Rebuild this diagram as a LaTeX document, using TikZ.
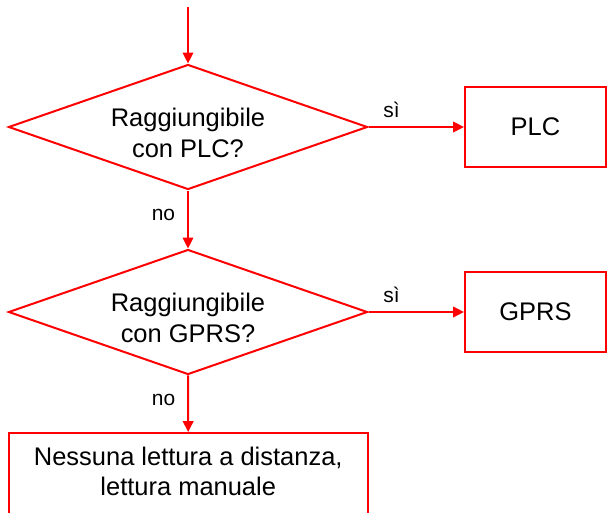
\documentclass[tikz,border=0pt]{standalone}
\usepackage{fontspec}
\setmainfont{Liberation Sans}
\usetikzlibrary{arrows.meta,shapes.geometric}
\newcommand{\strutup}{\rule{0pt}{22.85pt}}
\newcommand{\strutdown}{\rule[-3.9pt]{0pt}{0pt}}

\begin{document}
\begin{tikzpicture}[->,>={Triangle[length=8.25pt,width=8pt]},x=0.75pt,y=-0.75pt,red,line width=1.5pt]
  \tikzstyle{test}=[diamond,draw=red,text=black,aspect=2.87,inner sep=0pt,minimum width=269.25pt,minimum height=93.75pt,align=center,font=\fontsize{19.1}{23.25}\selectfont]
  \tikzstyle{block}=[rectangle,draw=red,text=black,minimum width=105.75pt,minimum height=60pt,align=center,font=\fontsize{19.1}{22.7}\selectfont]
  \tikzstyle{lbl}=[text=black,font=\fontsize{15.7}{18}\selectfont]

  \useasboundingbox (0,0) rectangle (607,512);
  \clip (0,0) rectangle (607,512);

  \coordinate (in) at (188,7);
  \node[test]  (d1)   at (188,127)   {\strutup Raggiungibile\\con PLC?};
  \node[block] (plc)  at (535.5,127) {PLC};
  \node[test]  (d2)   at (188,312)   {\strutup Raggiungibile\\con GPRS?};
  \node[block] (gprs) at (535.5,312) {GPRS};
  \node[block,minimum width=269.6pt,minimum height=61.5pt] (man) at (188.25,474) {Nessuna lettura a distanza,\\lettura manuale\strutdown};

  \path
  (in) edge (d1)
  (d1) edge node[lbl,pos=0.24,yshift=13pt] {sì} (plc)
       edge node[lbl,pos=0.42,xshift=-18.4pt] {no} (d2)
  (d2) edge node[lbl,pos=0.24,yshift=12.75pt] {sì} (gprs)
       edge node[lbl,pos=0.44,xshift=-18.4pt] {no} (man);
\end{tikzpicture}
\end{document}
